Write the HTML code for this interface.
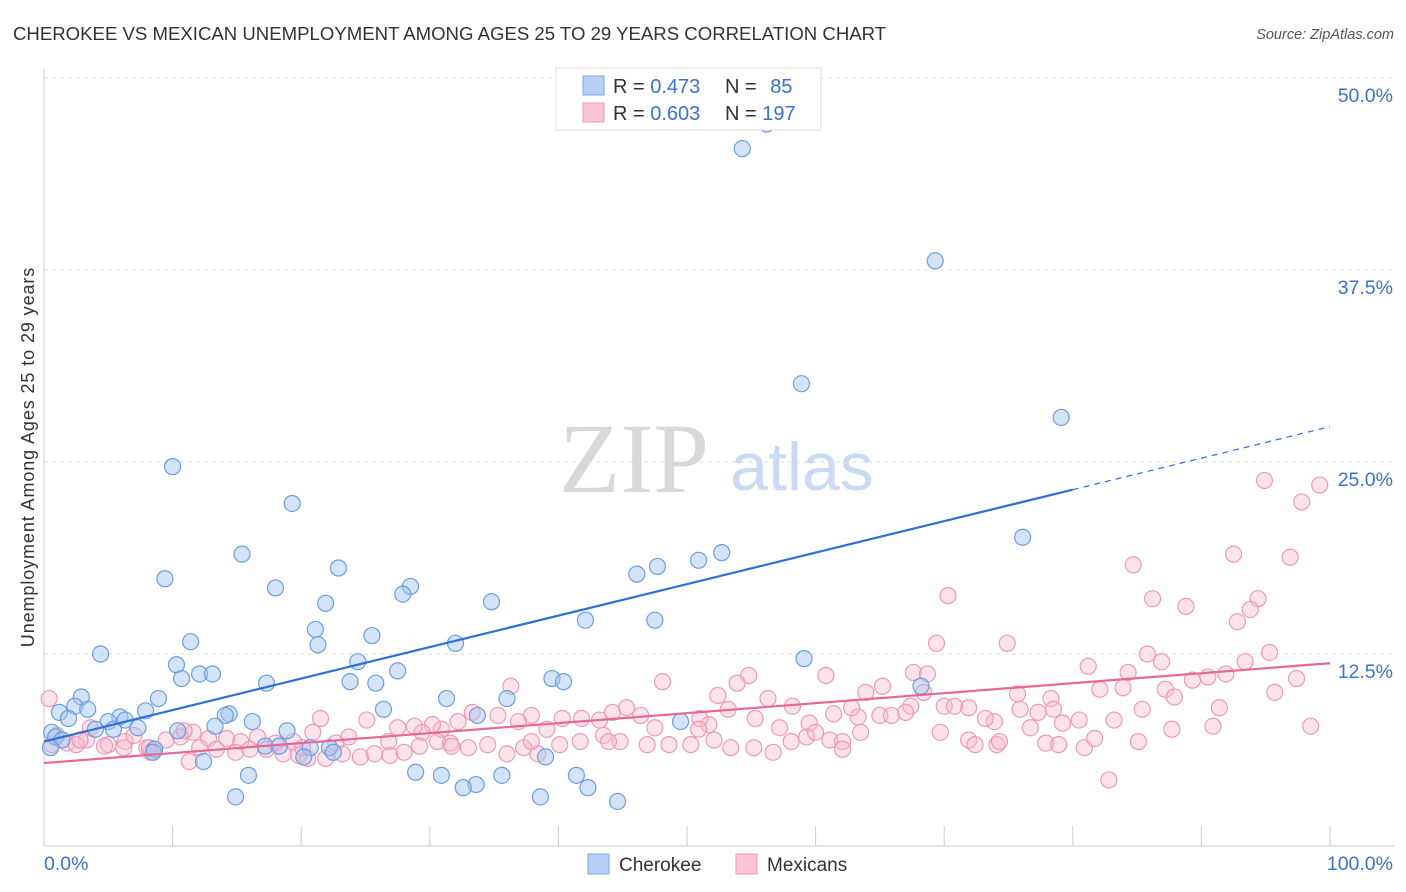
<!DOCTYPE html>
<html><head><meta charset="utf-8"><style>
body{margin:0;background:#fff;font-family:"Liberation Sans",sans-serif;}
svg{display:block}
</style></head><body>
<svg id="chart" width="1406" height="892">
<text x="13" y="40" font-size="18.6" fill="#333">CHEROKEE VS MEXICAN UNEMPLOYMENT AMONG AGES 25 TO 29 YEARS CORRELATION CHART</text>
<text x="1394" y="39" font-size="14.5" fill="#555" font-style="italic" text-anchor="end">Source: ZipAtlas.com</text>
<text x="634" y="492" font-size="100" fill="#d8d8d8" font-family="Liberation Serif,serif" text-anchor="middle">ZIP</text>
<text x="802" y="490" font-size="68" fill="#c9daf2" text-anchor="middle">atlas</text>
<g id="grid"></g>
<g id="axes"></g>
<g id="pts"></g>
<g id="trend"></g>
<text transform="translate(34,457) rotate(-90)" font-size="18" letter-spacing="0.9" fill="#333" text-anchor="middle">Unemployment Among Ages 25 to 29 years</text>
<g>
<rect x="556" y="68" width="265" height="62" fill="#fff" stroke="#ddd"/>
<rect x="583" y="76" width="21" height="19" fill="#b7d0f4" stroke="#7ea8e0"/>
<rect x="583" y="103" width="21" height="19" fill="#f9c5d5" stroke="#ee9ab5"/>
<text x="613" y="93" font-size="20" fill="#333">R = <tspan fill="#3a72cc">0.473</tspan></text>
<text x="725" y="93" font-size="20" fill="#333">N = <tspan fill="#3a72cc" dx="8">85</tspan></text>
<text x="613" y="120" font-size="20" fill="#333">R = <tspan fill="#3a72cc">0.603</tspan></text>
<text x="725" y="120" font-size="20" fill="#333">N = <tspan fill="#3a72cc">197</tspan></text>
</g>
<g>
<rect x="588" y="854" width="21" height="20" fill="#b7d0f4" stroke="#7ea8e0"/>
<text x="619" y="871" font-size="19" fill="#333">Cherokee</text>
<rect x="736" y="854" width="21" height="20" fill="#f9c5d5" stroke="#ee9ab5"/>
<text x="767" y="871" font-size="19" fill="#333">Mexicans</text>
</g>
</svg>
<script>
const blueX=[54.3,69.3,58.9,79.1,10.0,19.3,76.1,52.7,50.9,47.7,46.1,15.4,9.4,22.9,18.0,28.5,27.9,21.9,34.8,42.1,47.5,21.1,21.3,25.5,32.0,11.4,4.4,59.1,24.4,10.3,10.7,12.1,13.1,17.3,23.8,25.8,27.5,39.5,40.4,31.3,8.9,2.9,1.2,2.4,3.4,1.9,7.9,5.9,5.0,6.3,7.3,14.4,14.1,26.4,36.0,33.7,16.2,13.3,4.0,5.4,0.6,0.9,1.4,18.9,10.4,8.6,8.5,17.2,18.3,20.7,20.2,22.2,22.5,39.0,12.4,15.9,28.9,30.9,33.6,32.6,35.6,41.4,42.3,14.9,38.6,44.6,68.2,49.5,0.5,56.2];
const blueY=[45.4,38.1,30.1,27.9,24.7,22.3,20.1,19.1,18.6,18.2,17.7,19.0,17.4,18.1,16.8,16.9,16.4,15.8,15.9,14.7,14.7,14.1,13.1,13.7,13.2,13.3,12.5,12.2,12.0,11.8,10.9,11.2,11.2,10.6,10.7,10.6,11.4,10.9,10.7,9.6,9.6,9.7,8.7,9.1,8.9,8.3,8.8,8.4,8.1,8.2,7.7,8.6,8.5,8.9,9.6,8.5,8.1,7.8,7.6,7.6,7.4,7.1,6.9,7.5,7.5,6.3,6.1,6.5,6.5,6.4,5.8,6.4,6.1,5.8,5.5,4.6,4.8,4.6,4.0,3.8,4.6,4.6,3.8,3.2,3.2,2.9,10.4,8.1,6.4,47.0];
const pinkX=[0.4,94.9,99.2,97.8,92.5,96.9,84.7,70.3,86.2,94.4,88.8,93.8,92.8,69.4,74.9,95.3,85.8,86.9,54.8,60.8,48.1,81.2,84.3,67.6,68.7,93.4,91.9,90.5,89.3,87.2,87.9,82.1,83.9,75.7,78.3,95.7,97.4,65.2,63.9,52.4,53.9,56.3,68.4,36.3,75.9,78.5,77.3,80.5,91.4,90.9,98.5,83.2,79.2,85.1,82.8,73.9,73.2,71.9,70.0,70.8,67.4,65.0,63.3,62.8,58.2,57.2,59.5,61.4,59.3,61.1,55.3,53.2,51.7,51.0,45.3,46.4,44.2,43.2,41.8,40.3,39.1,37.9,36.9,35.3,33.3,32.2,30.9,30.2,29.4,28.8,27.5,25.1,23.7,22.7,21.5,20.9,19.4,18.0,16.6,15.3,14.2,12.8,11.6,10.6,9.5,8.0,6.3,5.0,3.3,1.8,1.0,2.5,3.6,7.0,8.3,10.9,12.1,13.4,14.9,16.0,17.3,18.6,19.8,20.5,21.9,23.2,24.6,25.7,26.9,28.0,29.2,30.6,31.6,33.0,34.5,36.0,37.3,38.4,40.1,41.7,43.5,44.8,46.9,48.6,50.3,52.1,53.4,55.2,56.7,58.1,60.0,62.1,63.5,65.9,67.0,69.7,71.9,72.4,74.1,76.7,77.9,78.9,80.9,81.7,87.7,85.4,74.3,62.1,50.9,47.5,43.9,37.9,31.7,26.8,20.1,11.3,8.2,6.2,4.7,2.8,0.6];
const pinkY=[9.6,23.8,23.5,22.4,19.0,18.8,18.3,16.3,16.1,16.1,15.6,15.4,14.6,13.2,13.2,12.6,12.5,12.0,11.1,11.1,10.7,11.7,11.3,11.3,11.2,12.0,11.2,11.0,10.8,10.2,9.7,10.2,10.3,9.9,9.6,10.0,10.9,10.4,10.0,9.8,10.6,9.6,10.0,10.4,8.9,8.9,8.7,8.2,9.0,7.8,7.8,8.2,8.0,6.8,4.3,8.1,8.3,9.0,9.1,9.1,9.1,8.5,8.4,9.0,9.1,7.7,8.0,8.6,7.1,6.9,8.3,8.9,7.9,8.3,9.0,8.5,8.7,8.2,8.3,8.3,7.6,8.5,8.1,8.5,8.7,8.1,7.6,7.9,7.4,7.8,7.7,8.2,7.1,6.7,8.3,7.4,6.8,6.7,7.1,6.8,7.0,7.0,7.4,7.1,6.9,6.4,6.8,6.6,6.9,6.7,7.2,6.6,7.7,7.2,6.1,7.5,6.4,6.3,6.1,6.3,6.3,6.0,5.9,5.7,5.7,6.0,5.8,6.0,5.9,6.1,6.5,6.8,6.7,6.4,6.6,6.0,6.4,6.0,6.6,6.8,7.2,6.8,6.6,6.6,6.6,6.9,6.4,6.4,6.1,6.8,7.4,6.8,7.4,8.5,8.7,7.4,6.9,6.6,6.6,7.7,6.7,6.6,6.4,7.0,7.6,8.9,6.8,6.3,7.6,7.7,6.8,6.8,6.5,6.8,6.4,5.5,6.4,6.4,6.5,6.9,6.6];
const blueTrend=[6.8,0.205];
const pinkTrend=[5.4,0.065];
const yTicks=[12.5,25.0,37.5,50.0];
const xTickLabels=["0.0%","100.0%"];

const NS="http://www.w3.org/2000/svg";
const X=v=>44+v*12.86;
const Y=v=>846-v*15.36;
function mk(tag,attrs,parent){const e=document.createElementNS(NS,tag);for(const k in attrs)e.setAttribute(k,attrs[k]);document.getElementById(parent).appendChild(e);return e;}
yTicks.forEach(t=>{
  const l=mk('line',{x1:44,x2:1394,y1:Y(t),y2:Y(t),stroke:'#ddd','stroke-dasharray':'4,4'},'grid');
  
  
  const tx=mk('text',{x:1393,y:Y(t)+24,'font-size':19.5,fill:'#3a72cc','text-anchor':'end'},'grid');
  tx.textContent=t.toFixed(1)+'%';
  
  
});
const ax=mk('line',{x1:44,x2:1394,y1:846,y2:846,stroke:'#ccc'},'axes');


const ay=mk('line',{x1:44,x2:44,y1:68,y2:846,stroke:'#ccc'},'axes');


for(let i=0;i<=10;i++){
  const t=mk('line',{x1:X(i*10),x2:X(i*10),y1:826,y2:846,stroke:'#ccc'},'axes');
  
  
}
const xl0=mk('text',{x:44,y:870,'font-size':19.5,fill:'#3a72cc'},'axes');
xl0.textContent=xTickLabels[0];


const xl1=mk('text',{x:1393,y:870,'font-size':19.5,fill:'#3a72cc','text-anchor':'end'},'axes');
xl1.textContent=xTickLabels[1];


pinkX.forEach((v,i)=>{
  const c=mk('circle',{cx:X(v),cy:Y(pinkY[i]),r:8,fill:'rgba(248,185,206,0.4)',stroke:'#ee9ab5','stroke-width':1.2},'pts');
  
  
});
blueX.forEach((v,i)=>{
  const c=mk('circle',{cx:X(v),cy:Y(blueY[i]),r:8,fill:'rgba(160,196,240,0.45)',stroke:'#6c9edf','stroke-width':1.2},'pts');
  
  
});
const bl=mk('line',{x1:X(0),y1:Y(blueTrend[0]),x2:X(80),y2:Y(blueTrend[0]+80*blueTrend[1]),stroke:'#2f6fd6','stroke-width':2.2},'trend');


const bd=mk('line',{x1:X(80),y1:Y(blueTrend[0]+80*blueTrend[1]),x2:X(100),y2:Y(blueTrend[0]+100*blueTrend[1]),stroke:'#2f6fd6','stroke-width':1.2,'stroke-dasharray':'6,5'},'trend');


const pl=mk('line',{x1:X(0),y1:Y(pinkTrend[0]),x2:X(100),y2:Y(pinkTrend[0]+100*pinkTrend[1]),stroke:'#e8679a','stroke-width':2.2},'trend');


</script>
</body></html>
